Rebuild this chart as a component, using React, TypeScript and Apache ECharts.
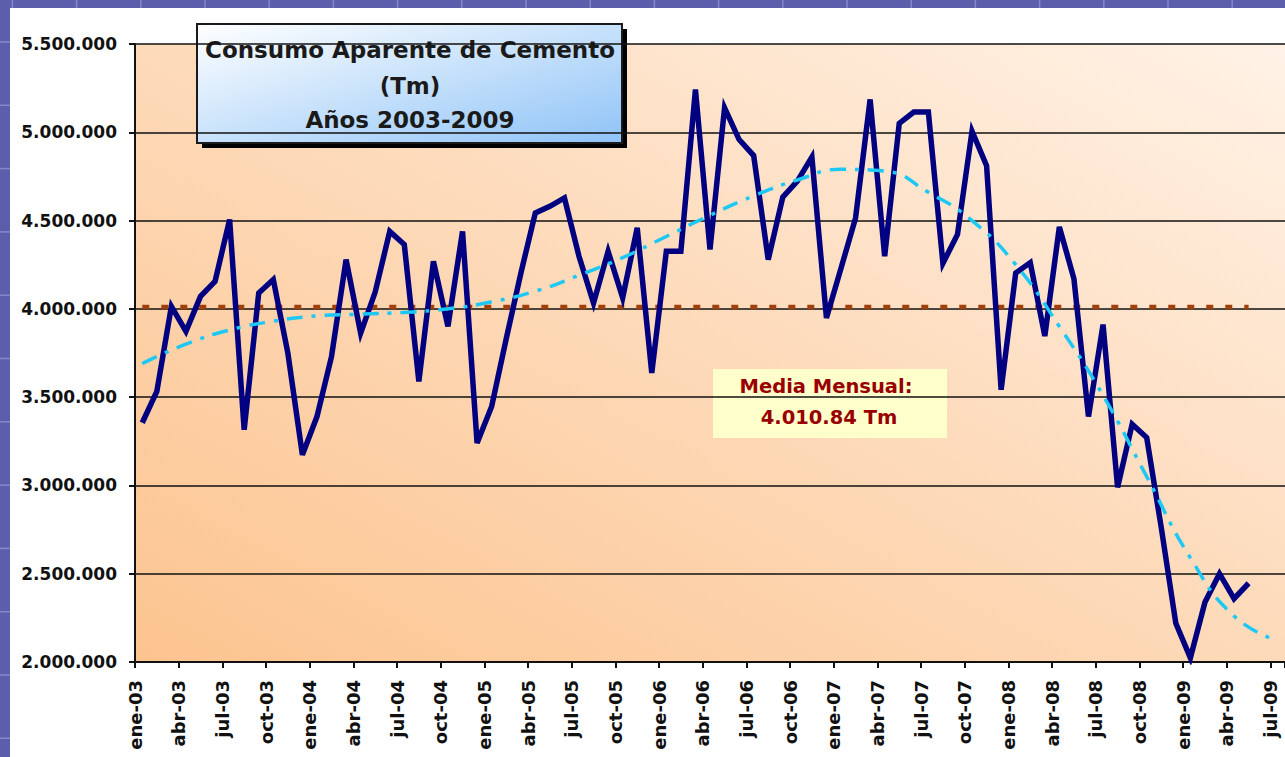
import React, { useEffect, useRef } from "react";
import * as echarts from "echarts";

// Tick labels of the date axis (one every 3 months, ene-03 .. jul-09)
const TICK_LABELS = [
  "ene-03", "abr-03", "jul-03", "oct-03",
  "ene-04", "abr-04", "jul-04", "oct-04",
  "ene-05", "abr-05", "jul-05", "oct-05",
  "ene-06", "abr-06", "jul-06", "oct-06",
  "ene-07", "abr-07", "jul-07", "oct-07",
  "ene-08", "abr-08", "jul-08", "oct-08",
  "ene-09", "abr-09", "jul-09",
];

// Monthly apparent cement consumption (Tm), ene-03 .. may-09
const CONSUMO = [
  3355000, 3532000, 4014000, 3873000, 4071000, 4156000, 4506000, 3315000, 4090000, 4166000, 3750000, 3173000,
  3390000, 3730000, 4279000, 3863000, 4095000, 4439000, 4364000, 3589000, 4269000, 3901000, 4439000, 3240000,
  3447000, 3830000, 4200000, 4543000, 4581000, 4628000, 4298000, 4033000, 4326000, 4062000, 4459000, 3637000,
  4326000, 4326000, 5243000, 4336000, 5139000, 4959000, 4868000, 4279000, 4633000, 4723000, 4860000, 3948000,
  4230000, 4515000, 5186000, 4298000, 5050000, 5115000, 5115000, 4258000, 4421000, 5006000, 4811000, 3542000,
  4203000, 4262000, 3846000, 4464000, 4171000, 3390000, 3911000, 2989000, 3347000, 3271000, 2761000, 2219000,
  2023000, 2338000, 2500000, 2359000, 2446000,
];

// Trend line read every 3 months (ene-03 .. jul-09)
const TENDENCIA = [
  3690000, 3800000, 3880000, 3930000, 3960000, 3970000, 3980000, 4000000, 4040000,
  4100000, 4190000, 4290000, 4410000, 4530000, 4640000, 4730000, 4790000, 4780000,
  4660000, 4500000, 4250000, 3900000, 3510000, 3050000, 2590000, 2260000, 2120000,
];
const TREND_STEP = 3;

const MEDIA = 4010840;

const Y_MIN = 2000000;
const Y_MAX = 5500000;
const Y_STEP = 500000;

const FONT = '"DejaVu Sans", Verdana, sans-serif';

function fmtMiles(v: number): string {
  return String(Math.round(v)).replace(/\B(?=(\d{3})+(?!\d))/g, ".");
}

export default function App() {
  const ref = useRef<HTMLDivElement>(null);

  useEffect(() => {
    if (!ref.current) return;
    const chart = echarts.init(ref.current, undefined, { renderer: "svg" });

    const decoLines: any[] = [];
    for (let x = 12.4; x < 1285; x += 64.2) {
      decoLines.push({
        type: "line",
        shape: { x1: x, y1: 0, x2: x, y2: 8 },
        style: { stroke: "#8588C8", lineWidth: 1.5 },
      });
    }
    for (let y = 42; y < 757; y += 63.3) {
      decoLines.push({
        type: "line",
        shape: { x1: 0, y1: y, x2: 10, y2: y },
        style: { stroke: "#8588C8", lineWidth: 1.5 },
      });
    }

    const option: any = {
      animation: false,
      backgroundColor: "#ffffff",
      grid: {
        left: 135,
        top: 44,
        right: 0,
        bottom: 95,
        show: true,
        borderWidth: 0,
        backgroundColor: new echarts.graphic.LinearGradient(0, 1, 1, 0, [
          { offset: 0, color: "#FCC48F" },
          { offset: 0.55, color: "#FDDCBD" },
          { offset: 1, color: "#FFF2E6" },
        ]),
      },
      xAxis: {
        type: "value",
        min: 0,
        max: 79,
        interval: 3,
        splitLine: { show: false },
        axisLine: { show: true, onZero: false, lineStyle: { color: "#111", width: 2 } },
        axisTick: { show: true, length: 6, lineStyle: { color: "#111", width: 2 } },
        axisLabel: {
          rotate: 90,
          margin: 18,
          color: "#111",
          fontFamily: FONT,
          fontWeight: "bold",
          fontSize: 18,
          showMaxLabel: true,
          showMinLabel: true,
          formatter: (v: number) => {
            const k = v / 3;
            return Number.isInteger(k) && TICK_LABELS[k] ? TICK_LABELS[k] : "";
          },
        },
      },
      yAxis: {
        type: "value",
        min: Y_MIN,
        max: Y_MAX,
        interval: Y_STEP,
        axisLine: { show: true, lineStyle: { color: "#111", width: 2 } },
        axisTick: { show: true, length: 6, lineStyle: { color: "#111", width: 2 } },
        splitLine: { show: true, lineStyle: { color: "#111", width: 1.5 } },
        axisLabel: {
          margin: 18,
          color: "#111",
          fontFamily: FONT,
          fontWeight: "bold",
          fontSize: 17,
          formatter: (v: number) => fmtMiles(v),
        },
      },
      series: [
        {
          name: "Media",
          type: "line",
          z: 2,
          symbol: "none",
          data: [
            [0.5, MEDIA],
            [CONSUMO.length - 0.5, MEDIA],
          ],
          lineStyle: { color: "#A0400C", width: 4.5, type: [7, 12] },
        },
        {
          name: "Consumo",
          type: "line",
          z: 3,
          symbol: "none",
          data: CONSUMO.map((v, i) => [i + 0.5, v]),
          lineStyle: { color: "#000080", width: 5.5, join: "miter" },
        },
        {
          name: "Tendencia",
          type: "line",
          z: 4,
          symbol: "none",
          smooth: true,
          data: TENDENCIA.map((v, k) => [k * TREND_STEP + 0.5, v]),
          lineStyle: { color: "#1EC8F5", width: 3.5, type: [16, 9, 4, 9] },
        },
      ],
      graphic: [
        {
          type: "group",
          z: 100,
          children: [
            { type: "rect", shape: { x: 0, y: 0, width: 1285, height: 8 }, style: { fill: "#5C5EAB" } },
            { type: "rect", shape: { x: 0, y: 0, width: 10, height: 757 }, style: { fill: "#5C5EAB" } },
            ...decoLines,
          ],
        },
        {
          type: "group",
          z: 100,
          children: [
            { type: "rect", shape: { x: 202, y: 29, width: 425, height: 119 }, style: { fill: "#000" } },
            {
              type: "rect",
              shape: { x: 197, y: 24, width: 425, height: 119 },
              style: {
                fill: new echarts.graphic.LinearGradient(0, 0, 1, 1, [
                  { offset: 0, color: "#FFFFFF" },
                  { offset: 1, color: "#8FC3F7" },
                ]),
                stroke: "#1a1a1a",
                lineWidth: 2,
              },
            },
            {
              type: "text",
              x: 410,
              y: 50,
              style: {
                text: "Consumo Aparente de Cemento",
                fill: "#1a1a1a",
                font: `bold 23px ${FONT}`,
                align: "center",
                verticalAlign: "middle",
                textAlign: "center",
                textVerticalAlign: "middle",
              },
            },
            {
              type: "text",
              x: 410,
              y: 86,
              style: {
                text: "(Tm)",
                fill: "#1a1a1a",
                font: `bold 23px ${FONT}`,
                align: "center",
                verticalAlign: "middle",
                textAlign: "center",
                textVerticalAlign: "middle",
              },
            },
            {
              type: "text",
              x: 410,
              y: 120,
              style: {
                text: "Años 2003-2009",
                fill: "#1a1a1a",
                font: `bold 23px ${FONT}`,
                align: "center",
                verticalAlign: "middle",
                textAlign: "center",
                textVerticalAlign: "middle",
              },
            },
          ],
        },
        {
          type: "group",
          z: 100,
          children: [
            { type: "rect", shape: { x: 713, y: 369, width: 234, height: 69 }, style: { fill: "#FFFFCC" } },
            {
              type: "text",
              x: 826,
              y: 386,
              style: {
                text: "Media Mensual:",
                fill: "#990000",
                font: `bold 19.5px ${FONT}`,
                align: "center",
                verticalAlign: "middle",
                textAlign: "center",
                textVerticalAlign: "middle",
              },
            },
            {
              type: "text",
              x: 829,
              y: 417,
              style: {
                text: "4.010.84 Tm",
                fill: "#990000",
                font: `bold 19.5px ${FONT}`,
                align: "center",
                verticalAlign: "middle",
                textAlign: "center",
                textVerticalAlign: "middle",
              },
            },
          ],
        },
      ],
    };

    chart.setOption(option);
    return () => {
      chart.dispose();
    };
  }, []);

  return (
    <div
      ref={ref}
      style={{ position: "fixed", left: 0, top: 0, width: 1285, height: 757 }}
    />
  );
}
